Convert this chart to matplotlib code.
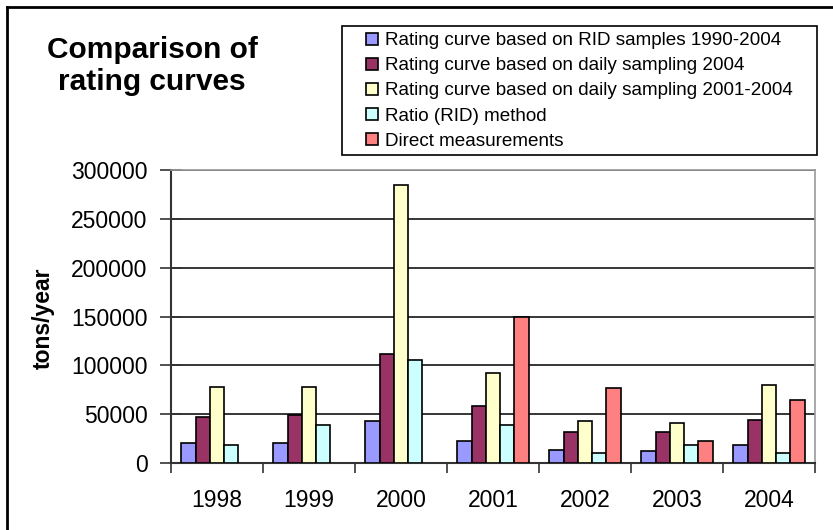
import numpy as np
import matplotlib.pyplot as plt
from matplotlib.lines import Line2D
from matplotlib.patches import Rectangle

plt.rcParams['font.family'] = ['Liberation Sans', 'DejaVu Sans']

# Datos
years = ['1998', '1999', '2000', '2001', '2002', '2003', '2004']
series_names = [
    'Rating curve based on RID samples 1990-2004',
    'Rating curve based on daily sampling 2004',
    'Rating curve based on daily sampling 2001-2004',
    'Ratio (RID) method',
    'Direct measurements',
]
rid_samples = [20000, 20000, 42800, 22900, 13700, 12300, 18500]
daily_2004 = [47600, 49000, 111700, 58200, 32200, 32200, 44500]
daily_2001_2004 = [78100, 78100, 284300, 91800, 42800, 41400, 79500]
ratio_rid = [18500, 38400, 105500, 39400, 10600, 18500, 10600]
direct = [np.nan, np.nan, np.nan, 149700, 76400, 22900, 64400]

COLORS = ['#9999FF', '#993366', '#FFFFCC', '#CCFFFF', '#FF8080']

W, H = 833, 530
fig = plt.figure(figsize=(W / 100, H / 100), dpi=100)
ax = fig.add_axes([171 / W, 1 - 463 / H, (815 - 171) / W, (463 - 170) / H])

all_series = [rid_samples, daily_2004, daily_2001_2004, ratio_rid, direct]
x = np.arange(len(years))
bw = 0.155
handles = []
for i, vals in enumerate(all_series):
    b = ax.bar(x + (i - 2) * bw, vals, bw, color=COLORS[i],
               edgecolor='black', linewidth=1.2, zorder=3)
    handles.append(b)

ax.set_xlim(-0.5, len(years) - 0.5)
ax.set_ylim(0, 300000)
ax.set_yticks(np.arange(0, 300001, 50000))
ax.set_yticklabels([str(v) for v in range(0, 300001, 50000)], fontsize=16.5)
ax.set_xticks(x)
ax.set_xticklabels(years, fontsize=16.5)
ax.tick_params(axis='x', length=0, pad=19)
ax.set_xticks(np.arange(-0.5, len(years), 1), minor=True)
ax.tick_params(axis='x', which='minor', length=7, width=1.2, color='#333333')
ax.tick_params(axis='y', direction='inout', length=16, width=1.2,
               color='#333333', pad=9)
ax.grid(axis='y', color='black', linewidth=1.1, zorder=0)
ax.set_axisbelow(True)
for s in ['top', 'right']:
    ax.spines[s].set_color('#999999')
    ax.spines[s].set_linewidth(1.2)
for s in ['left', 'bottom']:
    ax.spines[s].set_color('#333333')
    ax.spines[s].set_linewidth(1.5)

fig.text(43 / W, 1 - 318 / H, 'tons/year', rotation=90, ha='center',
         va='center', fontsize=16.5, fontweight='bold')

# Título
fig.text(152 / W, 1 - 66 / H, 'Comparison of\nrating curves', ha='center',
         va='center', fontsize=21.5, fontweight='bold', linespacing=1.15)

# Leyenda con recuadro
fig.add_artist(Rectangle((342 / W, 1 - 155 / H), (817 - 342) / W, (155 - 26) / H,
                         transform=fig.transFigure, fill=False,
                         edgecolor='black', linewidth=1.2))
fig.legend(handles, series_names, loc='upper left',
           bbox_to_anchor=(353 / W, 1 - 19 / H), frameon=False,
           fontsize=13.6, handlelength=0.6, handleheight=0.6,
           handletextpad=0.4, labelspacing=0.43, borderpad=0.2)

# Borde exterior
fig.add_artist(Line2D([7 / W, 7 / W], [0, 1 - 7 / H], color='black', linewidth=2))
fig.add_artist(Line2D([7 / W, 1], [1 - 7 / H, 1 - 7 / H], color='black', linewidth=2))

fig.savefig('out.png', dpi=100)
